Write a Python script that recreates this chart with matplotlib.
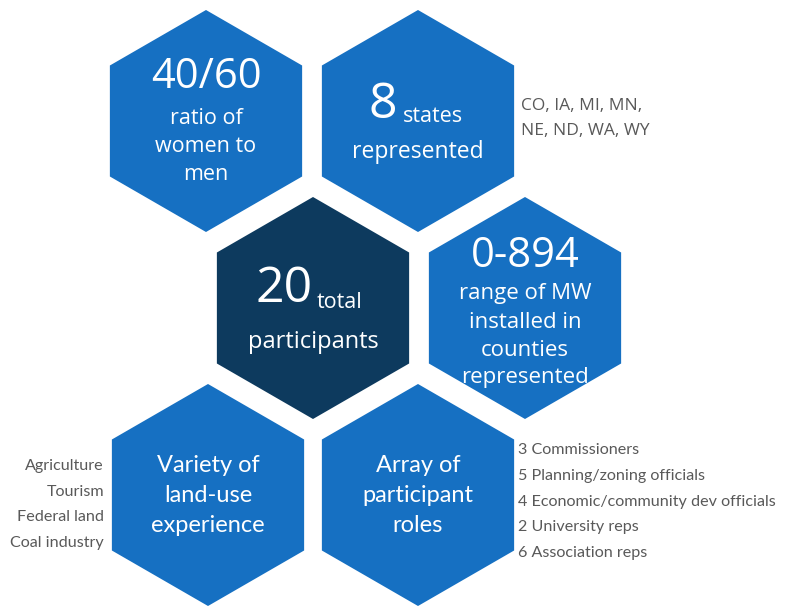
import matplotlib
matplotlib.use("Agg")
import matplotlib.pyplot as plt
from matplotlib.patches import RegularPolygon

BLUE = "#1670c2"
NAVY = "#0d3a5e"
GREY = "#595959"

# figures shown in the hexagons
big_numbers = ["40/60", "8", "20", "0-894"]
hex_captions = [
    ["ratio of", "women to", "men"],
    ["represented"],
    ["participants"],
    ["range of MW", "installed in", "counties", "represented"],
    ["Variety of", "land-use", "experience"],
    ["Array of", "participant", "roles"],
]
inline_words = ["", "states", "total", ""]
states = ["CO, IA, MI, MN,", "NE, ND, WA, WY"]
land_uses = ["Agriculture", "Tourism", "Federal land", "Coal industry"]
roles = ["3 Commissioners", "5 Planning/zoning officials",
         "4 Economic/community dev officials", "2 University reps",
         "6 Association reps"]

# layout (pixels, y downward)
centers = [(206, 121), (418, 121), (313, 308), (525, 308),
           (208, 495), (418, 495)]
fills = [BLUE, BLUE, NAVY, BLUE, BLUE, BLUE]
R = 111

fig = plt.figure(figsize=(7.86, 6.09), dpi=100)
ax = fig.add_axes([0, 0, 1, 1])
ax.set_xlim(0, 786)
ax.set_ylim(609, 0)
ax.set_aspect("equal")
ax.axis("off")

for (cx, cy), c in zip(centers, fills):
    ax.add_patch(RegularPolygon((cx, cy), 6, radius=R, orientation=0,
                                facecolor=c, edgecolor="none"))

hfont = dict(family="Open Sans", color="white", ha="center", va="center")

# 40/60
cx, cy = centers[0]
ax.text(cx, 77, big_numbers[0], fontsize=30, **hfont)
for i, t in enumerate(hex_captions[0]):
    ax.text(cx, 118 + i * 28, t, fontsize=15.5, **hfont)

# 8 states
cx, cy = centers[1]
ax.text(383, 105, big_numbers[1], fontsize=36, **hfont)
ax.text(403, 116, inline_words[1], fontsize=15.5, family="Open Sans",
        color="white", ha="left", va="center")
ax.text(cx, 152, hex_captions[1][0], fontsize=16.5, **hfont)

# 20 total
cx, cy = centers[2]
ax.text(284, 289, big_numbers[2], fontsize=36, **hfont)
ax.text(317, 302, inline_words[2], fontsize=15.5, family="Open Sans",
        color="white", ha="left", va="center")
ax.text(cx, 342, hex_captions[2][0], fontsize=17, **hfont)

# 0-894
cx, cy = centers[3]
ax.text(cx, 256, big_numbers[3], fontsize=30, **hfont)
for i, t in enumerate(hex_captions[3]):
    ax.text(cx, 294 + i * 28, t, fontsize=16, **hfont)

# bottom row
for k in (4, 5):
    cx, cy = centers[k]
    for i, t in enumerate(hex_captions[k]):
        ax.text(cx, 466 + i * 30, t, fontsize=17, family="Lato",
                color="white", ha="center", va="center")

for i, t in enumerate(states):
    ax.text(521, 106 + i * 25, t, fontsize=12.5, ha="left", va="center",
            family="Open Sans", color=GREY)
for i, t in enumerate(land_uses):
    ax.text(104, 466 + i * 25.5, t, fontsize=11.6, ha="right", va="center",
            family="Lato", color=GREY)
for i, t in enumerate(roles):
    ax.text(518, 450 + i * 25.8, t, fontsize=11.6, ha="left", va="center",
            family="Lato", color=GREY)

fig.savefig("out.png", dpi=100)
